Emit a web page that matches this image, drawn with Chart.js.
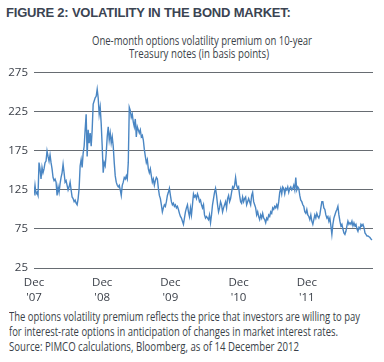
<!DOCTYPE html>
<html>
<head>
<meta charset="utf-8">
<script src="https://cdn.jsdelivr.net/npm/chart.js@4"></script>
<style>
  body { margin: 0; background: #fff; width: 384px; height: 362px; overflow: hidden; position: relative;
         font-family: "Open Sans", sans-serif; color: #3a3f48; }
  #title { position: absolute; left: 6px; top: 5px; font-weight: bold; font-size: 13px; color: #3b4452;
           font-family: "Liberation Sans", Arial, sans-serif; letter-spacing: -0.2px; }
  #chartBox { position: absolute; left: 0; top: 60px; width: 384px; height: 244px; }
  .line { position: absolute; font-size: 12px; line-height: 14px; white-space: nowrap; transform-origin: 0 50%; }
</style>
</head>
<body>
<div id="title">FIGURE 2: VOLATILITY IN THE BOND MARKET:</div>
<div class="line" data-w="220" style="left:92px; top:34px">One-month options volatility premium on 10-year</div>
<div class="line" data-w="140" style="left:129px; top:47px">Treasury notes (in basis points)</div>
<div id="chartBox"><canvas id="lineChart" width="384" height="244"></canvas></div>
<div class="line" data-w="351" style="left:9px; top:310px">The options volatility premium reflects the price that investors are willing to pay</div>
<div class="line" data-w="329" style="left:9px; top:325px">for interest-rate options in anticipation of changes in market interest rates.</div>
<div class="line" data-w="290" style="left:9px; top:340px">Source: PIMCO calculations, Bloomberg, as of 14 December 2012</div>

<script>
// Volatility premium (bp), one reading roughly every 5-6 days
var dec07ToSep08 = [118, 131, 120, 122, 118, 160, 152, 139, 154, 147, 152, 160, 162, 175, 168, 162, 170, 160, 152, 141,
    137, 139, 135, 118, 129, 122, 133, 141, 147, 158, 147, 135, 137, 131, 125, 129, 135, 125, 116, 114,
    110, 112, 108, 106, 114, 127, 156, 164, 154, 172, 181, 202, 222];
var oct08ToJul09 = [168, 202, 185, 198, 181, 202, 235, 239, 243, 245, 254, 243, 222, 231, 210, 181, 147, 160, 156, 172,
    193, 206, 189, 198, 185, 193, 181, 160, 143, 135, 131, 129, 131, 125, 118, 131, 135, 141, 139, 143,
    139, 160, 231, 227, 218, 222, 212, 206, 216, 193, 206, 202, 198, 202, 193, 195, 189, 177];
var aug09ToJun10 = [168, 160, 164, 152, 147, 152, 143, 135, 139, 131, 137, 141, 139, 127, 118, 114, 106, 97, 102, 106,
    104, 110, 118, 122, 127, 118, 110, 106, 108, 104, 106, 102, 104, 100, 95, 91, 89, 85, 81, 89,
    97, 102, 106, 97, 91, 102, 93, 106, 120, 116, 118, 114, 120, 116, 110, 112, 106, 102, 106];
var jun10ToApr11 = [93, 89, 91, 89, 87, 93, 83, 93, 106, 114, 122, 127, 118, 106, 97, 102, 110, 106, 97, 102,
    106, 110, 102, 114, 118, 110, 114, 122, 129, 127, 131, 141, 131, 127, 129, 118, 110, 108, 116, 110,
    114, 116, 106, 110, 114, 110, 106, 118, 122, 110, 106, 102, 93, 97, 91, 87, 93, 89, 95];
var may11ToFeb12 = [89, 87, 83, 89, 87, 93, 91, 97, 95, 102, 100, 104, 102, 106, 102, 110, 122, 127, 120, 129,
    127, 120, 127, 125, 129, 122, 127, 129, 125, 127, 131, 125, 141, 125, 129, 127, 118, 112, 110, 106,
    104, 97, 95, 100, 93, 91, 87, 93, 85, 81, 87, 93, 89, 95, 91, 89, 93, 102, 110];
var mar12ToDec12 = [110, 102, 100, 93, 89, 91, 85, 89, 79, 68, 81, 89, 93, 97, 100, 104, 93, 85, 79, 81,
    75, 70, 68, 72, 79, 85, 81, 83, 81, 85, 79, 83, 79, 81, 75, 72, 77, 75, 81, 79,
    81, 77, 70, 68, 66, 66, 65, 64, 62, 61];

var yearLabels = ["'07", "'08", "'09", "'10", "'11"];
var yTicks = [25, 75, 125, 175, 225, 275];
var readingsPerYear = 68;

var premium = [].concat(dec07ToSep08, oct08ToJul09, aug09ToJun10, jun10ToApr11, may11ToFeb12, mar12ToDec12);
var points = premium.map((v, i) => ({ x: i, y: v }));

var textFont = "'Open Sans', sans-serif";

// squeeze the text lines to the narrow width of the original typeface
document.querySelectorAll('.line').forEach(el => {
    var w = el.getBoundingClientRect().width;
    el.style.transform = 'scaleX(' + (el.dataset.w / w) + ')';
});

function generateLineChart() {
    var ctx = document.getElementById('lineChart').getContext('2d');

    new Chart(ctx, {
        type: 'line',
        data: {
            datasets: [{
                data: points,
                borderColor: '#4a86c3',
                borderWidth: 1.4,
                pointRadius: 0,
                tension: 0,
                fill: false
            }]
        },
        options: {
            responsive: false,
            animation: false,
            events: [],
            layout: { padding: { top: 8, right: 11, left: 0, bottom: 0 } },
            plugins: { legend: { display: false }, tooltip: { enabled: false } },
            scales: {
                x: {
                    type: 'linear',
                    min: 0,
                    max: premium.length,
                    grid: { display: false },
                    border: { display: false },
                    afterBuildTicks: function (scale) {
                        scale.ticks = yearLabels.map((l, i) => ({ value: i * readingsPerYear }));
                    },
                    afterFit: function (scale) { scale.height = 36; },
                    ticks: {
                        padding: 0,
                        maxRotation: 0,
                        autoSkip: false,
                        color: '#3a3f48',
                        font: { family: textFont, size: 11.5, lineHeight: 1.25 },
                        callback: function (value) {
                            return ['Dec', yearLabels[Math.round(value / readingsPerYear)]];
                        }
                    }
                },
                y: {
                    min: 25,
                    max: 275,
                    border: { display: false },
                    grid: { color: '#676c72', lineWidth: 1, drawTicks: false },
                    afterBuildTicks: function (scale) {
                        scale.ticks = yTicks.map(v => ({ value: v }));
                    },
                    afterFit: function (scale) { scale.width = 34; },
                    ticks: {
                        padding: 6,
                        color: '#3a3f48',
                        font: { family: textFont, size: 11.5 }
                    }
                }
            }
        }
    });
}

generateLineChart();
</script>
</body>
</html>
